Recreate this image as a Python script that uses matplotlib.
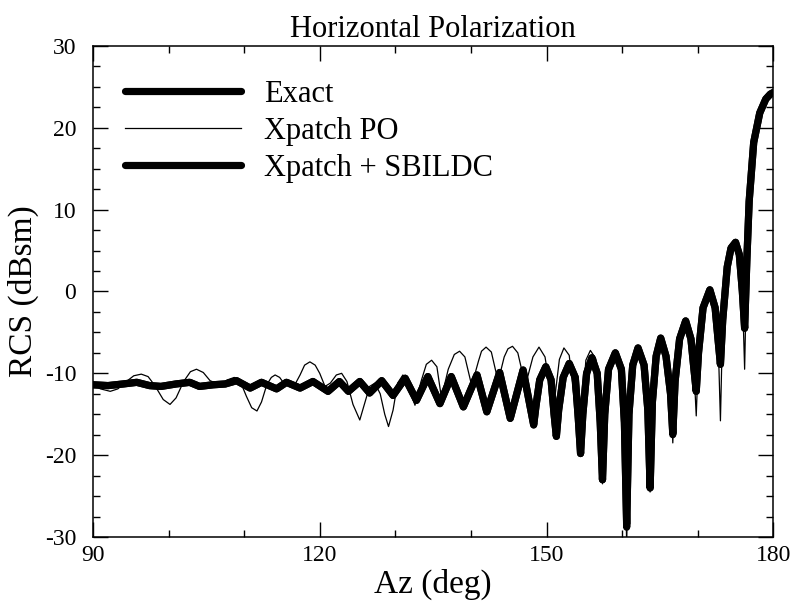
import matplotlib
matplotlib.use('Agg')
import matplotlib.pyplot as plt
from matplotlib.ticker import MultipleLocator

plt.rcParams['font.family'] = ['Liberation Serif', 'DejaVu Serif']
plt.rcParams['axes.unicode_minus'] = False

# thick curves (Exact, Xpatch + SBILDC)
az_thick = [90.0, 92.0, 94.0, 95.8, 97.5, 99.0, 101.0, 102.8, 104.1, 105.9,
            107.5, 109.0, 110.8, 112.3, 114.3, 115.6, 117.4, 119.1, 121.1, 122.6,
            123.8, 125.3, 126.6, 128.2, 129.7, 131.3, 132.8, 134.3, 135.9, 137.4,
            139.0, 140.8, 142.1, 143.8, 145.2, 146.9, 148.3,
            148.6, 149.1, 149.9, 150.6, 151.0, 151.3,
            151.6, 152.2, 153.0, 153.8, 154.2, 154.5,
            154.8, 155.3, 156.0, 156.7, 157.1, 157.4,
            157.7, 158.2, 159.1, 159.9, 160.3, 160.6,
            160.9, 161.4, 162.1, 162.9, 163.4, 163.7,
            164.0, 164.5, 165.1, 165.8, 166.4, 166.7,
            167.0, 167.6, 168.4, 169.1, 169.5, 169.8,
            170.1, 170.7, 171.6, 172.3, 172.7, 173.0,
            173.3, 173.9, 174.4, 175.0, 175.5, 175.9, 176.2,
            176.5, 176.8, 177.4, 178.2, 179.0, 179.6, 180.0]
exact_db = [-11.4, -11.5, -11.3, -11.1, -11.5, -11.6, -11.3, -11.1, -11.6, -11.4,
            -11.3, -10.9, -11.8, -11.1, -11.9, -11.1, -11.8, -11.0, -12.2, -11.0,
            -12.2, -11.0, -12.4, -10.9, -12.7, -10.6, -13.3, -10.4, -13.7, -10.4,
            -14.1, -10.2, -14.7, -9.9, -15.5, -9.6, -16.3,
            -14.0, -10.8, -9.2, -10.8, -15.0, -17.7,
            -14.5, -10.5, -8.8, -10.5, -15.5, -19.8,
            -15.0, -10.0, -8.1, -10.0, -16.0, -23.0,
            -15.0, -9.5, -7.5, -9.5, -16.0, -28.8,
            -15.0, -9.0, -6.9, -9.0, -14.5, -24.0,
            -13.5, -7.9, -5.7, -7.9, -12.5, -17.5,
            -11.0, -5.8, -3.6, -5.8, -9.5, -12.2,
            -7.5, -2.0, 0.2, -2.0, -6.0, -8.9,
            -3.5, 3.0, 5.3, 6.0, 4.5, 0.0, -4.5,
            4.0, 11.0, 18.2, 21.8, 23.5, 24.1, 24.3]
sbildc_db = [-11.4, -11.5, -11.3, -11.1, -11.5, -11.6, -11.3, -11.1, -11.6, -11.4,
             -11.3, -10.9, -11.8, -11.1, -11.9, -11.1, -11.8, -11.0, -12.2, -11.0,
             -12.2, -11.0, -12.4, -10.9, -12.7, -10.6, -13.3, -10.4, -13.7, -10.4,
             -14.1, -10.2, -14.7, -9.9, -15.5, -9.6, -16.3,
             -14.0, -10.8, -9.2, -10.8, -15.0, -17.7,
             -14.5, -10.5, -8.8, -10.5, -15.5, -19.8,
             -15.0, -10.0, -8.1, -10.0, -16.0, -23.0,
             -15.0, -9.5, -7.5, -9.5, -16.0, -28.4,
             -15.0, -9.0, -6.9, -9.0, -14.5, -24.0,
             -13.5, -7.9, -5.7, -7.9, -12.5, -17.3,
             -11.0, -5.8, -3.6, -5.8, -9.5, -12.2,
             -7.5, -2.0, 0.2, -2.0, -6.0, -8.9,
             -3.5, 3.0, 5.3, 6.0, 4.5, 0.0, -4.5,
             4.0, 11.0, 18.2, 21.8, 23.5, 24.1, 24.3]

# thin curve (Xpatch PO)
az_po = [90.0, 91.0, 92.3, 93.3, 94.3, 95.4, 96.4, 97.3, 98.2, 99.3,
         100.2, 101.0, 102.0, 102.9, 103.7, 104.6, 105.5, 106.8, 107.8, 108.7,
         109.5, 110.3, 111.0, 111.7, 112.3, 113.0, 113.6, 114.1, 114.7, 115.4,
         116.7, 117.4, 118.0, 118.7, 119.4, 120.0, 120.7, 121.4, 122.2, 122.9,
         123.6, 124.4, 125.3, 126.0, 126.6, 127.3, 128.0, 128.6, 129.1, 129.7,
         130.3, 131.0, 131.7, 132.6, 133.4, 134.1, 134.8, 135.5, 136.1, 137.0,
         137.8, 138.5, 139.2, 140.1, 141.0, 141.4, 142.0, 142.7, 143.6, 144.4,
         144.9, 145.5, 146.2, 147.2, 148.2, 149.0, 149.8, 150.9, 151.7, 152.3,
         153.0, 154.4, 155.2, 155.8, 156.5, 157.4,
         157.7, 158.2, 159.1, 159.9, 160.3, 160.6,
         160.9, 161.4, 162.1, 162.9, 163.4, 163.7,
         164.0, 164.5, 165.1, 165.8, 166.4, 166.7,
         167.0, 167.6, 168.4, 169.1, 169.5, 169.8,
         170.1, 170.7, 171.6, 172.3, 172.7, 173.0,
         173.3, 173.9, 174.4, 175.0, 175.5, 175.9, 176.2,
         176.5, 176.8, 177.4, 178.2, 179.0, 179.6, 180.0]
po_db = [-11.4, -11.9, -12.2, -11.9, -11.1, -10.3, -10.1, -10.4, -11.5, -13.2,
         -13.8, -13.0, -11.0, -9.8, -9.5, -9.9, -10.9, -11.4, -10.8, -10.5,
         -11.0, -12.8, -14.2, -14.6, -13.5, -11.4, -10.5, -10.2, -10.5, -11.4,
         -11.4, -10.2, -9.0, -8.6, -9.0, -10.0, -11.6, -11.2, -10.2, -10.0,
         -11.0, -13.8, -15.7, -13.5, -11.6, -11.2, -12.5, -15.0, -16.5, -14.5,
         -11.2, -10.2, -11.5, -13.9, -11.0, -8.9, -8.4, -9.2, -13.0, -9.5,
         -7.7, -7.3, -8.0, -11.5, -8.5, -7.3, -6.8, -7.4, -11.0, -8.0,
         -7.0, -6.7, -7.5, -11.5, -8.0, -6.8, -8.0, -14.5, -8.3, -6.9,
         -7.8, -19.0, -8.4, -7.2, -8.2, -23.5,
         -15.0, -9.5, -7.5, -9.5, -16.0, -31.0,
         -15.0, -9.0, -6.9, -9.0, -14.5, -24.5,
         -13.5, -7.9, -5.7, -7.9, -12.5, -18.5,
         -11.0, -5.8, -3.6, -5.8, -9.5, -15.2,
         -7.5, -2.0, 0.2, -2.0, -6.0, -15.8,
         -3.5, 3.0, 5.3, 6.0, 4.5, 0.0, -9.5,
         4.0, 11.0, 18.2, 21.8, 23.5, 24.1, 24.3]

fig = plt.figure(figsize=(7.94, 6.11), dpi=100)
ax = fig.add_axes([0.117, 0.121, 0.857, 0.804])

ax.plot(az_po, po_db, color='black', lw=0.9, label='Xpatch PO', zorder=2)
ax.plot(az_thick, exact_db, color='black', lw=5.2, solid_joinstyle='round',
        solid_capstyle='round', label='Exact', zorder=3)
ax.plot(az_thick, sbildc_db, color='black', lw=5.2, solid_joinstyle='round',
        solid_capstyle='round', label='Xpatch + SBILDC', zorder=3)

ax.set_xlim(90, 180)
ax.set_ylim(-30, 30)
ax.xaxis.set_major_locator(MultipleLocator(30))
ax.xaxis.set_minor_locator(MultipleLocator(10))
ax.yaxis.set_major_locator(MultipleLocator(10))
ax.yaxis.set_minor_locator(MultipleLocator(2.5))
ax.tick_params(which='both', direction='in', top=True, right=True, labelsize=17, width=1)
ax.tick_params(which='major', length=11)
ax.tick_params(which='minor', length=5)
ax.tick_params(axis='y', pad=12)
ax.tick_params(axis='x', pad=6)
for s in ax.spines.values():
    s.set_linewidth(1.1)

ax.set_xlabel('Az (deg)', fontsize=24, labelpad=2)
ax.set_ylabel('RCS (dBsm)', fontsize=24, labelpad=4)
ax.set_title('Horizontal Polarization', fontsize=22, pad=6)

h, l = ax.get_legend_handles_labels()
order = [1, 0, 2]
ax.legend([h[i] for i in order], [l[i] for i in order], loc='upper left',
          bbox_to_anchor=(0.025, 0.962), frameon=False, fontsize=22,
          handlelength=3.8, handletextpad=0.75, labelspacing=0.26, borderpad=0)

fig.savefig('out.png', dpi=100)
